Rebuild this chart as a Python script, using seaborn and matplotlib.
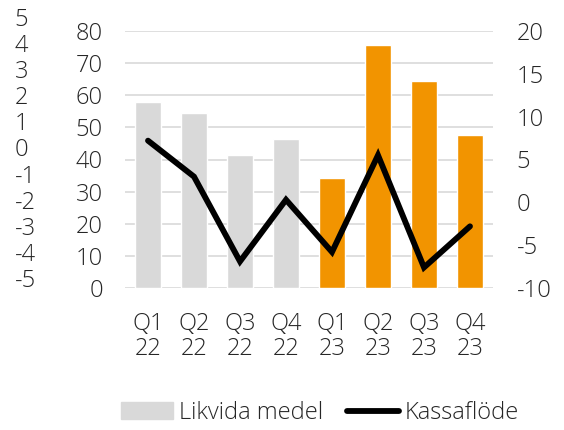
import numpy as np
import seaborn as sns
import matplotlib.pyplot as plt
from matplotlib.patches import Patch
from matplotlib.lines import Line2D

quarters = ["Q1\n22", "Q2\n22", "Q3\n22", "Q4\n22", "Q1\n23", "Q2\n23", "Q3\n23", "Q4\n23"]
likvida = [57.8, 54.6, 41.3, 46.4, 34.2, 75.7, 64.5, 47.7]
kassaflode = [7.2, 3.0, -6.9, 0.3, -5.8, 5.5, -7.6, -2.8]
bar_colors = ["#D9D9D9"] * 4 + ["#F29400"] * 4
left_ticks = list(range(0, 81, 10))
right_ticks = list(range(-10, 21, 5))
extra_ticks = list(range(-5, 6))

sns.set_theme(style="white")
plt.rcParams['font.family'] = ['Open Sans', 'DejaVu Sans']
plt.rcParams['font.weight'] = 'light'
plt.rcParams['axes.unicode_minus'] = False
fs = 17
text_color = "#262626"

fig = plt.figure(figsize=(5.64, 4.30), dpi=100)
ax = fig.add_axes([125 / 564, 1 - 288 / 430, 368 / 564, 257 / 430])

sns.barplot(x=quarters, y=likvida, hue=quarters, palette=bar_colors,
            legend=False, width=0.57, saturation=1, ax=ax, zorder=2)
ax.set_xlim(-0.5, len(quarters) - 0.5)
ax.set_ylim(0, 80)
ax.set_yticks(left_ticks)
ax.yaxis.grid(True, color="#D9D9D9", lw=1.2, zorder=0)
ax.set_axisbelow(True)
ax.tick_params(axis="y", length=0, pad=16, labelsize=fs, labelcolor=text_color)
ax.tick_params(axis="x", length=0, pad=17, labelsize=fs, labelcolor=text_color)
for lbl in ax.get_xticklabels():
    lbl.set_linespacing(1.1)
for s in ax.spines.values():
    s.set_visible(False)

ax2 = ax.twinx()
sns.lineplot(x=np.arange(len(quarters)), y=kassaflode, color="black", lw=4.2,
             ax=ax2, solid_capstyle="round", solid_joinstyle="miter")
ax2.set_ylim(-10, 20)
ax2.set_yticks(right_ticks)
ax2.tick_params(axis="y", length=0, pad=17, labelsize=fs, labelcolor=text_color)
for s in ax2.spines.values():
    s.set_visible(False)

# stray extra axis on far left
ax3 = fig.add_axes([14 / 564, 1 - 278 / 430, 0.001, 261 / 430])
ax3.set_ylim(-5, 5)
ax3.set_yticks(extra_ticks)
ax3.yaxis.tick_right()
ax3.set_xticks([])
ax3.patch.set_visible(False)
ax3.tick_params(axis="y", length=0, pad=0, labelsize=fs, labelcolor=text_color)
for s in ax3.spines.values():
    s.set_visible(False)

handles = [Patch(color="#D9D9D9"), Line2D([], [], color="black", lw=4.2)]
fig.legend(handles, ["Likvida medel", "Kassaflöde"], loc="center",
           bbox_to_anchor=(320 / 564, 1 - 413 / 430), ncol=2, frameon=False,
           fontsize=fs, handlelength=2.2, handletextpad=0.25, columnspacing=1.0,
           labelcolor=text_color)

fig.savefig("out.png", dpi=100)
